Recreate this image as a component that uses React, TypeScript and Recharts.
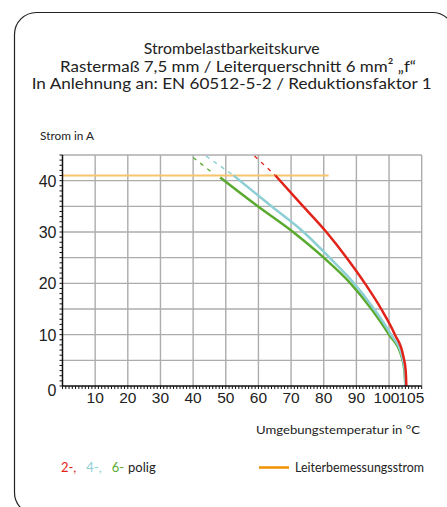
import { ComposedChart, Line, XAxis, YAxis, CartesianGrid } from "recharts";

// Umgebungstemperatur (°C) / Strom (A)
const pol2Dashed = [
  { t: 58.8, i: 44.8 },
  { t: 65.2, i: 41 },
];
const pol2 = [
  { t: 65.2, i: 41 },
  { t: 73.7, i: 35 },
  { t: 80.8, i: 30 },
  { t: 87, i: 25 },
  { t: 92.6, i: 20 },
  { t: 97.6, i: 15 },
  { t: 101.8, i: 10 },
  { t: 104.3, i: 6 },
  { t: 105.1, i: 3 },
  { t: 105.3, i: 0 },
];
const pol4Dashed = [
  { t: 44, i: 44.8 },
  { t: 52.4, i: 41 },
];
const pol4 = [
  { t: 52.4, i: 41 },
  { t: 64, i: 35 },
  { t: 73.8, i: 30 },
  { t: 81.8, i: 25 },
  { t: 89.3, i: 20 },
  { t: 95.4, i: 15 },
  { t: 100.6, i: 10 },
  { t: 103.9, i: 6 },
  { t: 104.8, i: 3 },
  { t: 105, i: 0 },
];
const pol6Dashed = [
  { t: 40, i: 44.5 },
  { t: 46, i: 41.5 },
];
const pol6 = [
  { t: 48.3, i: 40.6 },
  { t: 59.8, i: 35 },
  { t: 70.6, i: 30 },
  { t: 80, i: 25 },
  { t: 88.2, i: 20 },
  { t: 94.6, i: 15 },
  { t: 100, i: 10 },
  { t: 103.7, i: 6 },
  { t: 104.7, i: 3 },
  { t: 105, i: 0 },
];
const ratedCurrent = [
  { t: 0, i: 41 },
  { t: 81.5, i: 41 },
];

const xLabels = [10, 20, 30, 40, 50, 60, 70, 80, 90, 100, 105];
const yLabels = [0, 10, 20, 30, 40];
const xGrid = [10, 20, 30, 40, 50, 60, 70, 80, 90, 100, 110];
const yGrid = [5, 10, 15, 20, 25, 30, 35, 40, 45];
const xMinor = Array.from({ length: 111 }, (_, k) => k);
const yMinor = Array.from({ length: 46 }, (_, k) => k);

const RED = "#e2231a";
const CYAN = "#8dcfd4";
const GREEN = "#5aaa2f";
const ORANGE_LIGHT = "#f8c46c";
const ORANGE = "#f39200";

const numFont = "'Liberation Sans Narrow', 'Liberation Sans', Arial, sans-serif";
const textFont = "Lato, 'Open Sans', sans-serif";

const XTick = (props: any) => {
  const { x, y, payload } = props;
  if (!xLabels.includes(payload.value)) return null;
  const dx = payload.value === 105 ? 6 : payload.value === 100 ? -2.5 : 0;
  return (
    <text x={x + dx} y={y + 12} textAnchor="middle" fontFamily={numFont} fontSize={15.5} fill="#222">
      {payload.value}
    </text>
  );
};

const YTick = (props: any) => {
  const { x, y, payload } = props;
  if (!yLabels.includes(payload.value)) return null;
  const dy = payload.value === 0 ? 4 : 0;
  return (
    <text x={x - 1} y={y + 6 + dy} textAnchor="end" fontFamily={numFont} fontSize={16} fill="#222">
      {payload.value}
    </text>
  );
};

export default function App() {
  return (
    <div style={{ position: "absolute", left: 0, top: 0, width: 447, height: 507, background: "#fff", overflow: "hidden" }}>
      <ComposedChart
        width={447}
        height={507}
        margin={{ top: 155, right: 25.3, left: 22.5, bottom: 91 }}
      >
        <CartesianGrid
          horizontalValues={yGrid}
          verticalValues={xGrid}
          stroke="#acacac"
          strokeWidth={1.4}
        />
        <XAxis
          type="number"
          dataKey="t"
          domain={[0, 110]}
          ticks={xMinor}
          interval={0}
          tick={<XTick />}
          tickSize={3}
          tickLine={{ stroke: "#111" }}
          axisLine={{ stroke: "#111", strokeWidth: 1.5 }}
          height={30}
          allowDataOverflow
        />
        <YAxis
          type="number"
          dataKey="i"
          domain={[0, 45]}
          ticks={yMinor}
          interval={0}
          tick={<YTick />}
          tickSize={3}
          tickLine={{ stroke: "#111" }}
          axisLine={{ stroke: "#111", strokeWidth: 1.5 }}
          width={40}
          allowDataOverflow
        />
        <Line data={ratedCurrent} dataKey="i" stroke={ORANGE_LIGHT} strokeWidth={2} dot={false} isAnimationActive={false} />
        <Line data={pol6Dashed} dataKey="i" stroke={GREEN} strokeWidth={1.3} strokeDasharray="4 5" dot={false} isAnimationActive={false} />
        <Line data={pol4Dashed} dataKey="i" stroke={CYAN} strokeWidth={1.5} strokeDasharray="4 5" dot={false} isAnimationActive={false} />
        <Line data={pol2Dashed} dataKey="i" stroke={RED} strokeWidth={1.3} strokeDasharray="4 5" dot={false} isAnimationActive={false} />
        <Line data={pol6} dataKey="i" type="monotone" stroke={GREEN} strokeWidth={2.5} dot={false} isAnimationActive={false} />
        <Line data={pol4} dataKey="i" type="monotone" stroke={CYAN} strokeWidth={2.5} dot={false} isAnimationActive={false} />
        <Line data={pol2} dataKey="i" type="monotone" stroke={RED} strokeWidth={2.5} dot={false} isAnimationActive={false} />
      </ComposedChart>
      <svg width={447} height={507} style={{ position: "absolute", left: 0, top: 0, pointerEvents: "none" }}>
        <rect x={14.5} y={12.5} width={440} height={502} rx={22} fill="none" stroke="#222" strokeWidth={1.2} />
        <g fontFamily={textFont} fill="#222" fontSize={16} textAnchor="middle">
          <text x={231.7} y={54} textLength={176} lengthAdjust="spacingAndGlyphs">Strombelastbarkeitskurve</text>
          <text x={238} y={71.5} textLength={356} lengthAdjust="spacingAndGlyphs">Rastermaß 7,5 mm / Leiterquerschnitt 6 mm² „f“</text>
          <text x={231.7} y={89} textLength={400} lengthAdjust="spacingAndGlyphs">In Anlehnung an: EN 60512-5-2 / Reduktionsfaktor 1</text>
        </g>
        <g fontFamily={textFont} fill="#222" fontSize={12}>
          <text x={40} y={140} textLength={54} lengthAdjust="spacingAndGlyphs">Strom in A</text>
          <text x={256} y={434} textLength={164} lengthAdjust="spacingAndGlyphs">Umgebungstemperatur in °C</text>
        </g>
        <g fontFamily={textFont} fontSize={13}>
          <text x={61} y={472}>
            <tspan fill={RED}>2-,</tspan>
            <tspan fill={CYAN} dx={10}>4-,</tspan>
            <tspan fill={GREEN} dx={10}>6-</tspan>
            <tspan fill="#222" dx={4}>polig</tspan>
          </text>
          <line x1={259} y1={467.5} x2={289} y2={467.5} stroke={ORANGE} strokeWidth={2.5} />
          <text x={295} y={472} fill="#222" textLength={129} lengthAdjust="spacingAndGlyphs">Leiterbemessungsstrom</text>
        </g>
      </svg>
    </div>
  );
}
